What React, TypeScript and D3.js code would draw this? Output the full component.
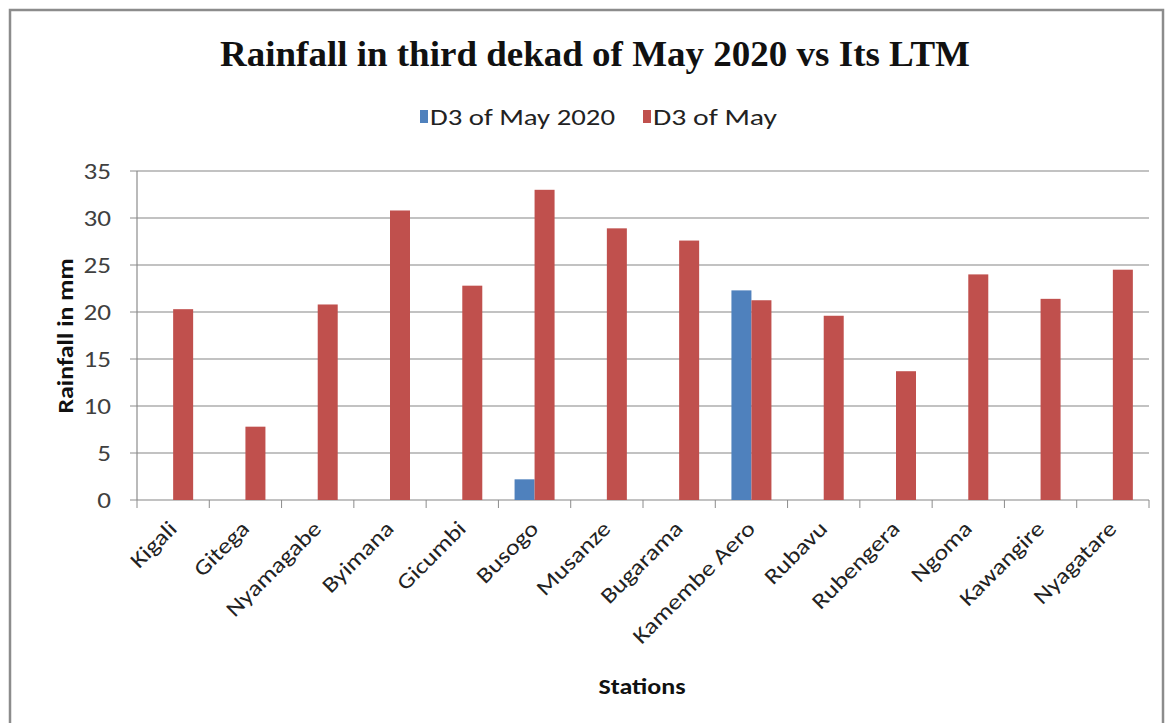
import React from "react";
import * as d3 from "d3";

const stations = [
  "Kigali", "Gitega", "Nyamagabe", "Byimana", "Gicumbi", "Busogo", "Musanze",
  "Bugarama", "Kamembe Aero", "Rubavu", "Rubengera", "Ngoma", "Kawangire", "Nyagatare",
];
const may2020 = [0, 0, 0, 0, 0, 2.2, 0, 0, 22.3, 0, 0, 0, 0, 0];
const mayLTM = [20.3, 7.8, 20.8, 30.8, 22.8, 33.0, 28.9, 27.6, 21.25, 19.6, 13.7, 24.0, 21.4, 24.5];
const seriesNames = ["D3 of May 2020", "D3 of May"];
const seriesColors = ["#4F81BD", "#C0504D"];
const yTicks = [0, 5, 10, 15, 20, 25, 30, 35];

const W = 1167;
const H = 723;
const left = 137;
const right = 1149;
const top = 171;
const bottom = 500;
const SX = 1.18;

export default function App() {
  const x = d3.scaleBand<string>().domain(stations).range([left, right]).paddingInner(0).paddingOuter(0);
  const y = d3.scaleLinear().domain([0, 35]).range([bottom, top]);
  const barW = 20;
  const series = [may2020, mayLTM];
  const labelFont = "Carlito, Calibri, 'Open Sans', sans-serif";

  return (
    <svg width={W} height={H} style={{ position: "absolute", left: 0, top: 0, background: "#fff" }}>
      <rect x={0} y={0} width={W} height={H} fill="#fff" />
      <rect x={10} y={10} width={1153} height={730} fill="#fff" stroke="#8c8c8c" strokeWidth={2.5} />
      <text x={595} y={66} textAnchor="middle" fontFamily="'Liberation Serif', 'Times New Roman', serif"
        fontWeight="bold" fontSize={35} textLength={750} lengthAdjust="spacingAndGlyphs" fill="#111">
        Rainfall in third dekad of May 2020 vs Its LTM
      </text>
      {/* legend */}
      <g fontFamily={labelFont} fontSize={23} fill="#222">
        <rect x={420} y={110} width={8} height={13} fill={seriesColors[0]} />
        <text x={430} y={125} textLength={185} lengthAdjust="spacingAndGlyphs">{seriesNames[0]}</text>
        <rect x={643} y={110} width={8} height={13} fill={seriesColors[1]} />
        <text x={653} y={125} textLength={124} lengthAdjust="spacingAndGlyphs">{seriesNames[1]}</text>
      </g>
      {/* gridlines */}
      {yTicks.map((t) => (
        <line key={"g" + t} x1={left} x2={right} y1={y(t)} y2={y(t)} stroke="#868686" strokeWidth={1.2} />
      ))}
      {/* y axis */}
      <line x1={left} x2={left} y1={top} y2={bottom} stroke="#8c8c8c" strokeWidth={1.2} />
      {yTicks.map((t) => (
        <g key={"t" + t}>
          <line x1={left - 7} x2={left} y1={y(t)} y2={y(t)} stroke="#8c8c8c" />
          <text transform={`translate(111 ${y(t) + 8}) scale(${SX} 1)`} textAnchor="end"
            fontFamily={labelFont} fontSize={23} fill="#404040">{t}</text>
        </g>
      ))}
      {/* x ticks */}
      {d3.range(stations.length + 1).map((i) => (
        <line key={"xt" + i} x1={left + i * x.bandwidth()} x2={left + i * x.bandwidth()} y1={bottom} y2={bottom + 8} stroke="#8c8c8c" />
      ))}
      {/* bars */}
      {series.map((vals, si) =>
        vals.map((v, i) =>
          v > 0 ? (
            <rect key={si + "-" + i}
              x={(x(stations[i]) as number) + x.bandwidth() / 2 - barW + si * barW}
              y={y(v)} width={barW} height={bottom - y(v)} fill={seriesColors[si]} />
          ) : null
        )
      )}
      {/* x labels */}
      {stations.map((s) => {
        const cx = (x(s) as number) + x.bandwidth() / 2 + 5;
        const cy = bottom + 30;
        return (
          <text key={"l" + s} transform={`translate(${cx} ${cy}) rotate(-45) scale(${SX} 1)`} textAnchor="end"
            fontFamily={labelFont} fontSize={22} fill="#222">{s}</text>
        );
      })}
      <text transform={`translate(642 694) scale(${SX} 1)`} textAnchor="middle" fontFamily={labelFont} fontWeight="bold" fontSize={22} fill="#111">Stations</text>
      <text transform={`translate(73 336) rotate(-90) scale(${SX} 1)`} textAnchor="middle" fontFamily={labelFont} fontWeight="bold" fontSize={22} fill="#111">Rainfall in mm</text>
    </svg>
  );
}
